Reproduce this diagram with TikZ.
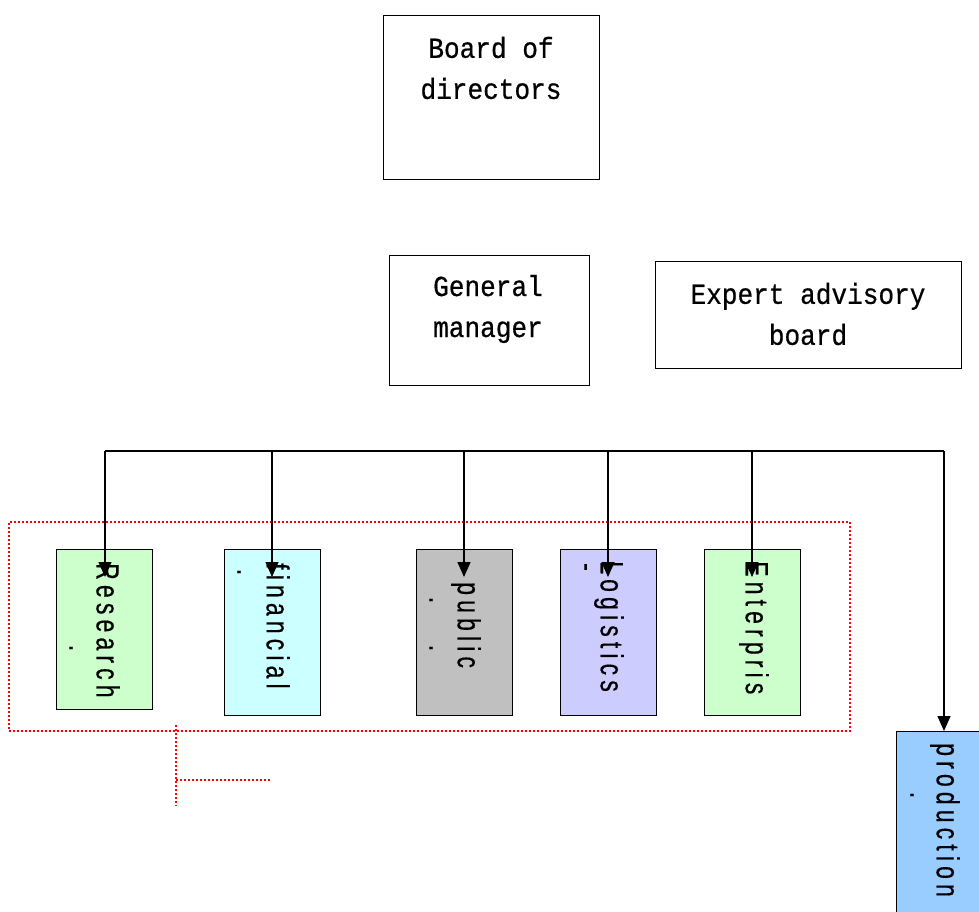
\documentclass[tikz,border=0pt]{standalone}
\usepackage{fontspec}
\usetikzlibrary{arrows.meta}
\newfontfamily\topfont[FakeStretch=0.9,FakeBold=0.6]{Liberation Mono}
\newfontfamily\vfont[FakeStretch=0.72,LetterSpace=16,FakeBold=0.4]{Liberation Sans}
\definecolor{cgreen}{HTML}{CCFFCC}
\definecolor{ccyan}{HTML}{CCFFFF}
\definecolor{cgrey}{HTML}{C0C0C0}
\definecolor{cviolet}{HTML}{CCCCFF}
\definecolor{cblue}{HTML}{99CCFF}
\tikzset{
  box/.style={draw=black, line width=1.3pt, rectangle, inner sep=0pt, anchor=north west},
  toptxt/.style={font=\topfont\fontsize{29}{41}\selectfont, align=center, inner sep=0pt},
  vtxt/.style={font=\vfont\fontsize{32}{32}\selectfont, rotate=-90, anchor=west, inner sep=0pt},
  dotmark/.style={font=\vfont\fontsize{32}{32}\selectfont, rotate=-90, inner sep=0pt},
  conn/.style={line width=1.3pt, draw=black},
  arr/.style={conn, -{Triangle[length=15pt,width=13pt]}},
  reddot/.style={draw=red, line width=1.5pt, dash pattern=on 2pt off 2pt}
}
\begin{document}
\begin{tikzpicture}[x=1pt,y=-1pt]
\useasboundingbox (0,0) rectangle (979,911);
\clip (0,0) rectangle (979,911);
\fill[white] (0,0) rectangle (979,911);
% top boxes
\node[box, minimum width=216pt, minimum height=164pt] (bod) at (383,15) {};
\node[toptxt] (bodt) at (491,68) {Board of\\directors};
\node[box, minimum width=200pt, minimum height=130pt] (gm) at (389,255) {};
\node[toptxt] (gmt) at (488,309) {General\\manager};
\node[box, minimum width=306pt, minimum height=107pt] (ex) at (655,261) {};
\node[toptxt] (ext) at (808,314) {Expert advisory\\board};
% department boxes
\node[box, fill=cgreen, minimum width=96pt, minimum height=160pt] (res) at (56,549) {};
\node[box, fill=ccyan, minimum width=96pt, minimum height=166pt] (fin) at (224,549) {};
\node[box, fill=cgrey, minimum width=96pt, minimum height=166pt] (pub) at (416,549) {};
\node[box, fill=cviolet, minimum width=96pt, minimum height=166pt] (log) at (560,549) {};
\node[box, fill=cgreen, minimum width=96pt, minimum height=166pt] (ent) at (704,549) {};
\node[box, fill=cblue, minimum width=100pt, minimum height=200pt] (pro) at (896,731) {};
% red dotted frame
\node[reddot, rectangle, minimum width=841pt, minimum height=209pt, inner sep=0pt, anchor=north west] (frame) at (8,521) {};
\coordinate (r1) at (176,725);
\coordinate (r2) at (176,806);
\coordinate (r3) at (176,780);
\coordinate (r4) at (270,780);
\draw[reddot] (r1) -- (r2);
\draw[reddot] (r3) -- (r4);
% connectors
\coordinate (hl) at (105,451);
\coordinate (hr) at (944,451);
\coordinate (h2) at (272,451);
\coordinate (h3) at (464,451);
\coordinate (h4) at (608,451);
\coordinate (h5) at (752,451);
\coordinate (t1) at (105,577);
\coordinate (t2) at (272,577);
\coordinate (t3) at (464,577);
\coordinate (t4) at (608,577);
\coordinate (t5) at (752,577);
\draw[conn] (hl) -- (hr);
\draw[arr] (hl) -- (t1);
\draw[arr] (h2) -- (t2);
\draw[arr] (h3) -- (t3);
\draw[arr] (h4) -- (t4);
\draw[arr] (h5) -- (t5);
\draw[arr] (hr) -- (pro.north west -| hr);
% vertical texts
\node[vtxt] (rest) at (108,563) {Research};
\node[vtxt] (fint) at (278,563) {financial};
\node[vtxt] (pubt) at (466,582) {public};
\node[vtxt] (logt) at (609,561) {Logistics};
\node[vtxt] (entt) at (754,561) {Enterpris};
\node[vtxt] (prot) at (945,743) {production};
% stray marks
\node[dotmark] (d1) at (71,648) {.};
\node[dotmark] (d2) at (239,572) {.};
\node[dotmark] (d3) at (431,600) {.};
\node[dotmark] (d4) at (431,648) {.};
\node[dotmark] (d5) at (582,567) {-};
\node[dotmark] (d6) at (912,795) {.};
\end{tikzpicture}
\end{document}
